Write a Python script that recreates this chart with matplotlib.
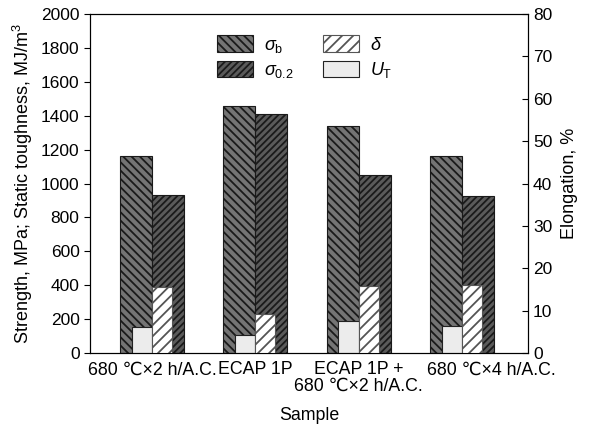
import matplotlib
matplotlib.use("Agg")
import matplotlib.pyplot as plt
import matplotlib.transforms as mtransforms
import numpy as np

plt.rcParams["font.family"] = ["Liberation Sans", "DejaVu Sans"]
plt.rcParams["mathtext.fontset"] = "custom"
plt.rcParams["mathtext.rm"] = "Liberation Sans"
plt.rcParams["mathtext.it"] = "Liberation Sans:italic"
plt.rcParams["hatch.linewidth"] = 1.3

samples = ["680 \u2103\u00d72 h/A.C.", "ECAP 1P", "ECAP 1P +\n680 \u2103\u00d72 h/A.C.", "680 \u2103\u00d74 h/A.C."]
sigma_b = [1160, 1460, 1340, 1162]
sigma_02 = [930, 1410, 1050, 925]
u_t = [155, 106, 189, 159]
delta = [15.6, 9.1, 15.9, 16.0]

x = np.arange(len(samples))
wide = 0.31
narrow = 0.195

fig = plt.figure(figsize=(5.98, 4.25), dpi=100)
ax = fig.add_axes([0.1505, 0.1694, 0.7325, 0.7976])
ax2 = ax.twinx()

h_b = ax.bar(x - wide / 2, sigma_b, wide, color="#747474", edgecolor="#1a1a1a",
             hatch="\\\\\\\\", linewidth=0.8, zorder=2)
h_02 = ax.bar(x + wide / 2, sigma_02, wide, color="#5a5a5a", edgecolor="#1a1a1a",
              hatch="/////", linewidth=0.8, zorder=2)
h_u = ax.bar(x - narrow / 2, u_t, narrow, color="#ececec", edgecolor="#222222",
             linewidth=0.8, zorder=3)
h_d = ax2.bar(x + narrow / 2, delta, narrow, color="white", edgecolor="#555555",
              hatch="///", linewidth=0.8, zorder=3)

ax.set_xlim(-0.6, 3.64)
ax.set_ylim(0, 2000)
ax.set_yticks(np.arange(0, 2001, 200))
ax2.set_ylim(0, 80)
ax2.set_yticks(np.arange(0, 81, 10))

ax.set_xticks(x)
ax.set_xticklabels(samples, fontsize=12.8, linespacing=0.95)
ax.tick_params(axis="x", length=0, pad=6)
ax.tick_params(axis="y", direction="out", length=4, labelsize=12.5)
ax2.tick_params(axis="y", direction="in", length=4, labelsize=12.5)

# last sample label sits to the right of its bars in the original
lbl = ax.get_xticklabels()[-1]
lbl.set_transform(lbl.get_transform() + mtransforms.ScaledTranslation(0.29, 0, fig.dpi_scale_trans))

ax.set_xlabel("Sample", fontsize=12.8, labelpad=9)
ax.set_ylabel("Strength, MPa; Static toughness, MJ/m$^3$", fontsize=13, labelpad=4)
ax2.set_ylabel("Elongation, %", fontsize=13, labelpad=6)

handles = [h_b, h_02, h_d, h_u]
labels = [r"$\sigma_\mathrm{b}$", r"$\sigma_{0.2}$", r"$\delta$", r"$U_\mathrm{T}$"]
ax2.legend(handles, labels, ncol=2, loc="upper center",
           bbox_to_anchor=(0.49, 0.985), frameon=False, fontsize=13,
           handlelength=2.0, handleheight=1.0, columnspacing=1.6,
           labelspacing=0.35, handletextpad=0.6)

fig.savefig("out.png", dpi=100)
